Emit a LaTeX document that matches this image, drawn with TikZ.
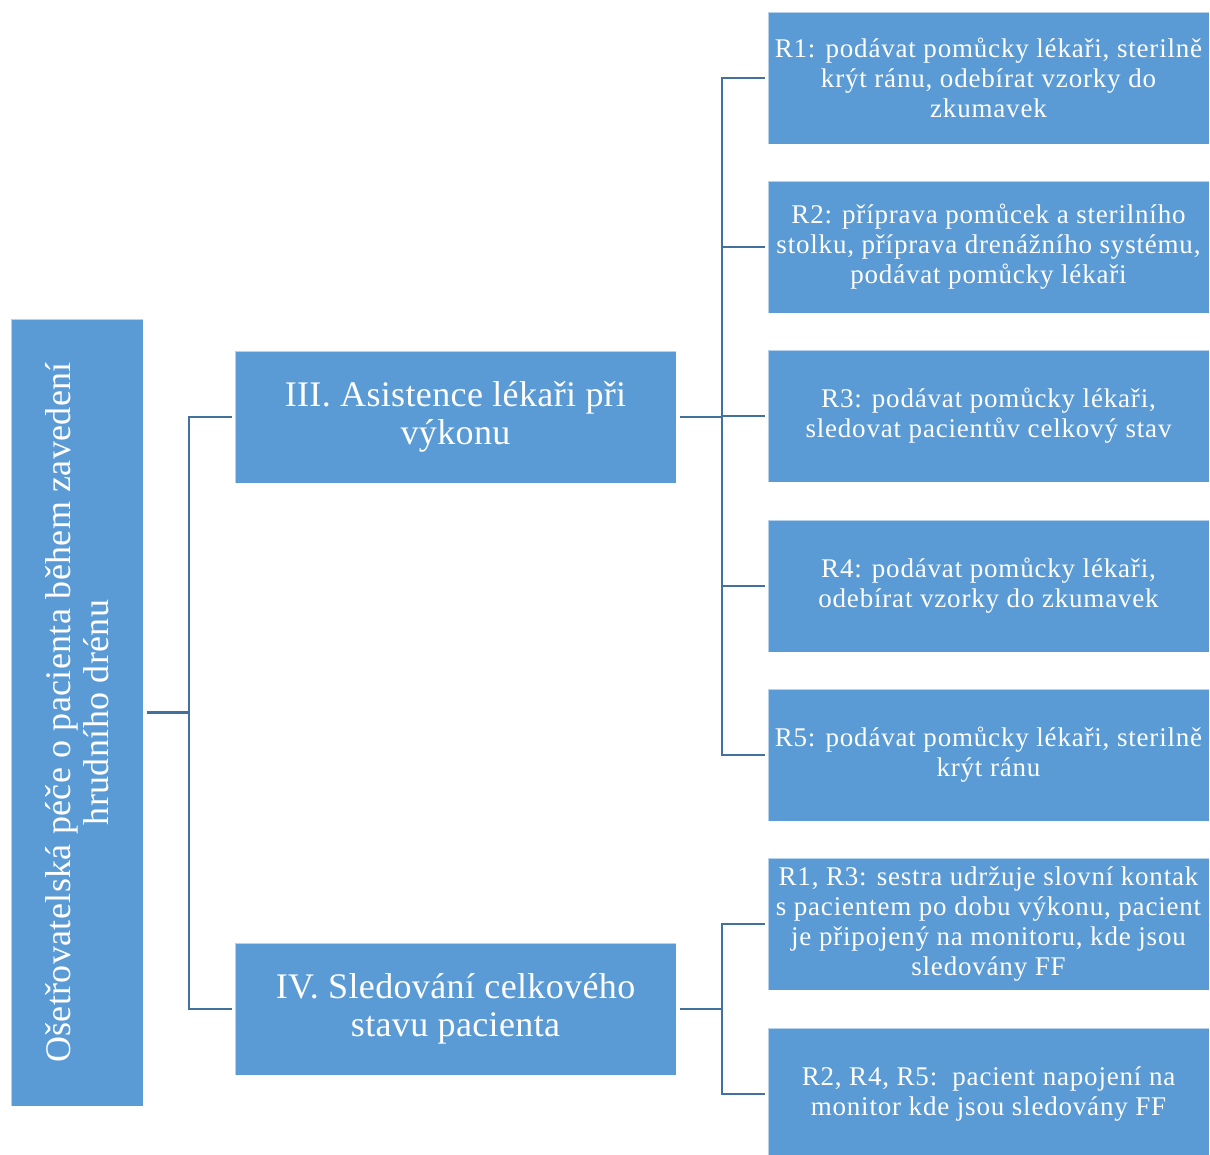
\documentclass[tikz,border=0pt]{standalone}
\usepackage{fontspec}
\setmainfont{Liberation Serif}
\newfontfamily\bigserif[LetterSpace=1]{Liberation Serif}
\newfontfamily\leafserif[LetterSpace=3]{Liberation Serif}
\definecolor{boxfill}{HTML}{5B9BD5}
\definecolor{linkcol}{HTML}{41719C}
\tikzset{
  box/.style={fill=boxfill, draw=white, draw opacity=0.55, line width=1pt,
    inner sep=0pt, text=white, align=center, anchor=center},
  bigbox/.style={box, minimum width=441, minimum height=132,
    font=\bigserif\fontsize{36}{38}\selectfont},
  leafbox/.style={box, minimum width=441, minimum height=132,
    font=\leafserif\fontsize{27}{30}\selectfont},
  link/.style={draw=linkcol, line width=2.6pt, shorten <=3pt, shorten >=3pt},
}
\begin{document}
\begin{tikzpicture}[x=1pt, y=-1pt]
\useasboundingbox (0,0) rectangle (1210,1154);

% root, written bottom to top
\node[box, minimum width=787, minimum height=132, rotate=90,
      font=\bigserif\fontsize{36}{38}\selectfont] (root) at (77,712.5)
  {Ošetřovatelská péče o pacienta během zavedení\\hrudního drénu};

% second level
\node[bigbox] (asist) at (455.5,417) {III. Asistence lékaři při\\výkonu};
\node[bigbox] (sled) at (455.5,1009) {IV. Sledování celkového\\stavu pacienta};

% leaves under III
\node[leafbox] (r1) at (988.5,78)  {R1: podávat pomůcky lékaři, sterilně\\krýt ránu, odebírat vzorky do\\zkumavek};
\node[leafbox] (r2) at (988.5,247) {R2: příprava pomůcek a sterilního\\stolku, příprava drenážního systému,\\podávat pomůcky lékaři};
\node[leafbox] (r3) at (988.5,416) {R3: podávat pomůcky lékaři,\\sledovat pacientův celkový stav};
\node[leafbox] (r4) at (988.5,586) {R4: podávat pomůcky lékaři,\\odebírat vzorky do zkumavek};
\node[leafbox] (r5) at (988.5,755) {R5: podávat pomůcky lékaři, sterilně\\krýt ránu};

% leaves under IV
\node[leafbox] (s1) at (988.5,924)  {R1, R3: sestra udržuje slovní kontak\\s pacientem po dobu výkonu, pacient\\je připojený na monitoru, kde jsou\\sledovány FF};
\node[leafbox] (s2) at (988.5,1094) {R2, R4, R5:\ \ pacient napojení na\\monitor kde jsou sledovány FF};

% junction points of the elbow connectors
\coordinate (j0) at (189,712.5);
\coordinate (j1) at (722,417);
\coordinate (j2) at (722,1009);

\draw[link, shorten >=0pt] (root.south) -- (j0);
\draw[link, shorten <=0pt] (j0) |- (asist.west);
\draw[link, shorten <=0pt] (j0) |- (sled.west);

\draw[link, shorten >=0pt] (asist.east) -- (j1);
\foreach \n in {r1,r2,r3,r4,r5}
  \draw[link, shorten <=0pt] (j1) |- (\n.west);

\draw[link, shorten >=0pt] (sled.east) -- (j2);
\foreach \n in {s1,s2}
  \draw[link, shorten <=0pt] (j2) |- (\n.west);
\end{tikzpicture}
\end{document}
